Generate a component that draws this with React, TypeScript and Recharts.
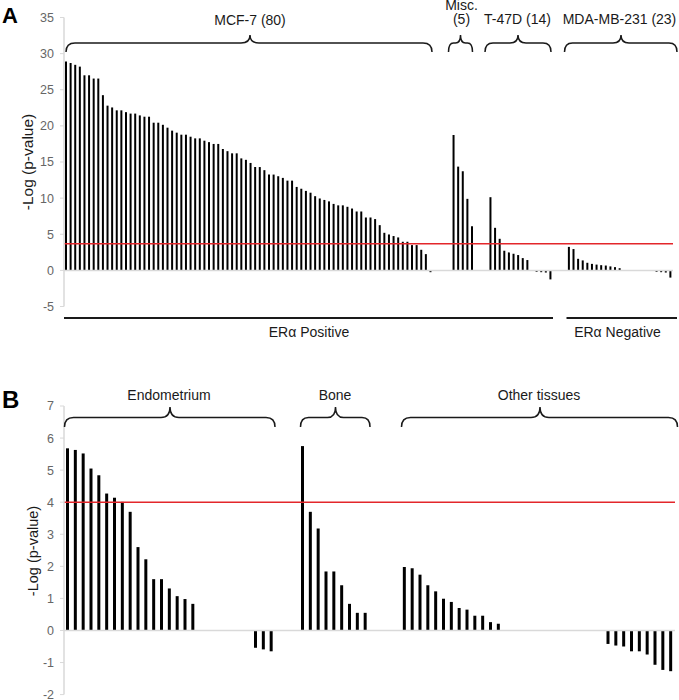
import { Bar, BarChart, ReferenceLine, XAxis, YAxis } from "recharts";

const FONT = '"Liberation Sans", Arial, sans-serif';

// Panel A: breast cancer cell lines, bars sorted within each group
const mcf7 = [
  28.9, 28.7, 28.45, 28.2, 27.0, 27.0, 26.55, 26.55, 24.25, 22.8,
  22.55, 22.15, 22.15, 21.9, 21.7, 21.7, 21.45, 21.27, 21.27, 20.44,
  20.44, 20.15, 19.75, 19.34, 19.06, 18.78, 18.78, 18.5, 18.27, 18.27,
  17.95, 17.75, 17.5, 17.5, 16.8, 16.5, 16.2, 16.2, 15.5, 15.3,
  14.87, 14.3, 14.3, 13.87, 13.26, 13.26, 13.03, 12.8, 12.42, 12.42,
  11.55, 11.3, 11.0, 10.75, 10.27, 9.95, 9.75, 9.55, 9.2, 9.0,
  9.0, 8.8, 8.56, 8.15, 8.15, 7.32, 7.32, 7.1, 6.26, 5.2,
  4.97, 4.75, 4.56, 3.96, 3.96, 3.5, 3.5, 2.85, 2.25, -0.25,
];
const misc = [18.74, 14.36, 13.72, 9.9, 6.12];
const t47d = [10.13, 5.89, 4.37, 2.72, 2.49, 2.3, 2.12, 1.7, 1.43, null, -0.2, -0.25, -0.3, -1.25];
const mda231 = [
  3.25, 2.95, 1.6, 1.38, 1.05, 0.9, 0.8, 0.72, 0.67, 0.55, 0.45, 0.3,
  null, null, null, null, null, null, null, -0.2, -0.25, -0.3, -1.0,
];
const gapsA = [4, 3, 3];
const thresholdA = 3.7;
const ticksA = [-5, 0, 5, 10, 15, 20, 25, 30, 35];

// Panel B: tissues
const endometrium = [
  5.68, 5.63, 5.52, 5.05, 4.84, 4.27, 4.14, 4.01, 3.7, 2.6, 2.22, 1.6, 1.6, 1.31, 1.07, 0.98, 0.83,
  null, null, null, null, null, null, null, -0.54, -0.59, -0.65,
];
const bone = [5.75, 3.7, 3.18, 1.84, 1.84, 1.41, 0.83, 0.55, 0.55];
const otherTissues = [
  1.98, 1.94, 1.74, 1.41, 1.22, 0.99, 0.89, 0.7, 0.65, 0.46, 0.46, 0.26, 0.21,
  null, null, null, null, null, null, null, null, null, null, null, null, null,
  -0.42, -0.47, -0.5, -0.65, -0.65, -0.75, -1.07, -1.23, -1.27,
];
const gapsB = [3, 4];
const thresholdB = 4;
const ticksB = [-2, -1, 0, 1, 2, 3, 4, 5, 6, 7];

type Row = { slot: number; value: number | null };

function buildRows(groups: (number | null)[][], gaps: number[]): Row[] {
  const rows: Row[] = [];
  groups.forEach((g, gi) => {
    g.forEach((v) => rows.push({ slot: rows.length, value: v }));
    if (gi < gaps.length) {
      for (let k = 0; k < gaps[gi]; k++) rows.push({ slot: rows.length, value: null });
    }
  });
  return rows;
}

const rowsA = buildRows([mcf7, misc, t47d, mda231], gapsA);
const rowsB = buildRows([endometrium, bone, otherTissues], gapsB);

type PanelProps = {
  rows: Row[];
  ticks: number[];
  threshold: number;
  height: number;
  margin: { top: number; right: number; bottom: number; left: number };
  barSize: number;
};

function Panel({ rows, ticks, threshold, height, margin, barSize }: PanelProps) {
  return (
    <BarChart width={679} height={height} data={rows} margin={margin}>
      <XAxis dataKey="slot" hide />
      <YAxis
        domain={[ticks[0], ticks[ticks.length - 1]]}
        ticks={ticks}
        interval={0}
        width={64}
        axisLine={{ stroke: "#d9d9d9", strokeWidth: 1.5 }}
        tickLine={{ stroke: "#d9d9d9" }}
        tickSize={4}
        tickMargin={6}
        tick={{ fontSize: 12.5, fill: "#666", fontFamily: FONT }}
      />
      <ReferenceLine y={0} stroke="#d9d9d9" strokeWidth={1.5} />
      <Bar dataKey="value" fill="#000" barSize={barSize} isAnimationActive={false} />
      <ReferenceLine y={threshold} stroke="#e3262b" strokeWidth={1.5} />
    </BarChart>
  );
}

function bracePath(x1: number, x2: number, xm: number, yTip: number, yMid: number, yEnd: number, r: number) {
  return [
    `M${x1},${yEnd}`,
    `Q${x1},${yMid} ${x1 + r},${yMid}`,
    `L${xm - r},${yMid}`,
    `Q${xm},${yMid} ${xm},${yTip}`,
    `Q${xm},${yMid} ${xm + r},${yMid}`,
    `L${x2 - r},${yMid}`,
    `Q${x2},${yMid} ${x2},${yEnd}`,
  ].join(" ");
}

const textStyle = { fontFamily: FONT, fontSize: 14, fill: "#1a1a1a" };

function Overlay() {
  return (
    <svg
      width={679}
      height={700}
      style={{ position: "absolute", top: 0, left: 0, pointerEvents: "none" }}
    >
      <text x={2} y={23} style={{ fontFamily: FONT, fontSize: 22, fontWeight: 700 }}>A</text>
      <text x={2} y={408} style={{ fontFamily: FONT, fontSize: 24, fontWeight: 700 }}>B</text>

      <text
        transform="translate(27,162) rotate(-90)"
        textAnchor="middle"
        dominantBaseline="central"
        style={{ ...textStyle, fontSize: 15.5 }}
      >
        -Log (p-value)
      </text>
      <text
        transform="translate(33,551) rotate(-90)"
        textAnchor="middle"
        dominantBaseline="central"
        style={{ ...textStyle, fontSize: 14.5 }}
      >
        -Log (p-value)
      </text>

      <g fill="none" stroke="#1a1a1a" strokeWidth={1.5}>
        <path d={bracePath(66, 432, 250, 35, 43, 52, 9)} />
        <path d={bracePath(448.5, 472.5, 460.5, 35, 43, 52, 5)} />
        <path d={bracePath(485, 551, 518, 35, 43, 52, 8)} />
        <path d={bracePath(564.5, 677, 621, 35, 43, 52, 8)} />
        <path d={bracePath(64.5, 275, 170, 407, 417.5, 427, 9)} />
        <path d={bracePath(300.5, 370, 335.5, 407, 417.5, 427, 8)} />
        <path d={bracePath(401.5, 677.5, 540, 407, 417.5, 427, 9)} />
      </g>

      <text x={250} y={24.5} textAnchor="middle" style={textStyle}>MCF-7 (80)</text>
      <text x={461.5} y={10} textAnchor="middle" style={textStyle}>Misc.</text>
      <text x={461.5} y={23.5} textAnchor="middle" style={textStyle}>(5)</text>
      <text x={517.5} y={23.5} textAnchor="middle" style={textStyle}>T-47D (14)</text>
      <text x={619.5} y={23.5} textAnchor="middle" style={textStyle}>MDA-MB-231 (23)</text>

      <text x={169} y={400} textAnchor="middle" style={textStyle}>Endometrium</text>
      <text x={335} y={400} textAnchor="middle" style={textStyle}>Bone</text>
      <text x={539} y={400} textAnchor="middle" style={textStyle}>Other tissues</text>

      <line x1={64} x2={553} y1={318} y2={318} stroke="#1a1a1a" strokeWidth={2} />
      <line x1={566.5} x2={677} y1={318} y2={318} stroke="#1a1a1a" strokeWidth={2} />
      <text x={309} y={336.5} textAnchor="middle" style={textStyle}>ERα Positive</text>
      <text x={617.5} y={336.5} textAnchor="middle" style={textStyle}>ERα Negative</text>
    </svg>
  );
}

export default function App() {
  return (
    <div style={{ position: "relative", width: 679, height: 700, overflow: "hidden", background: "#fff" }}>
      <style>{"body{margin:0}"}</style>
      <div style={{ position: "absolute", top: 0, left: 0 }}>
        <Panel
          rows={rowsA}
          ticks={ticksA}
          threshold={thresholdA}
          height={320}
          margin={{ top: 17.5, right: 6, bottom: 13.5, left: 0 }}
          barSize={2}
        />
      </div>
      <div style={{ position: "absolute", top: 340, left: 0 }}>
        <Panel
          rows={rowsB}
          ticks={ticksB}
          threshold={thresholdB}
          height={360}
          margin={{ top: 66, right: 4, bottom: 5.4, left: 0 }}
          barSize={3}
        />
      </div>
      <Overlay />
    </div>
  );
}
